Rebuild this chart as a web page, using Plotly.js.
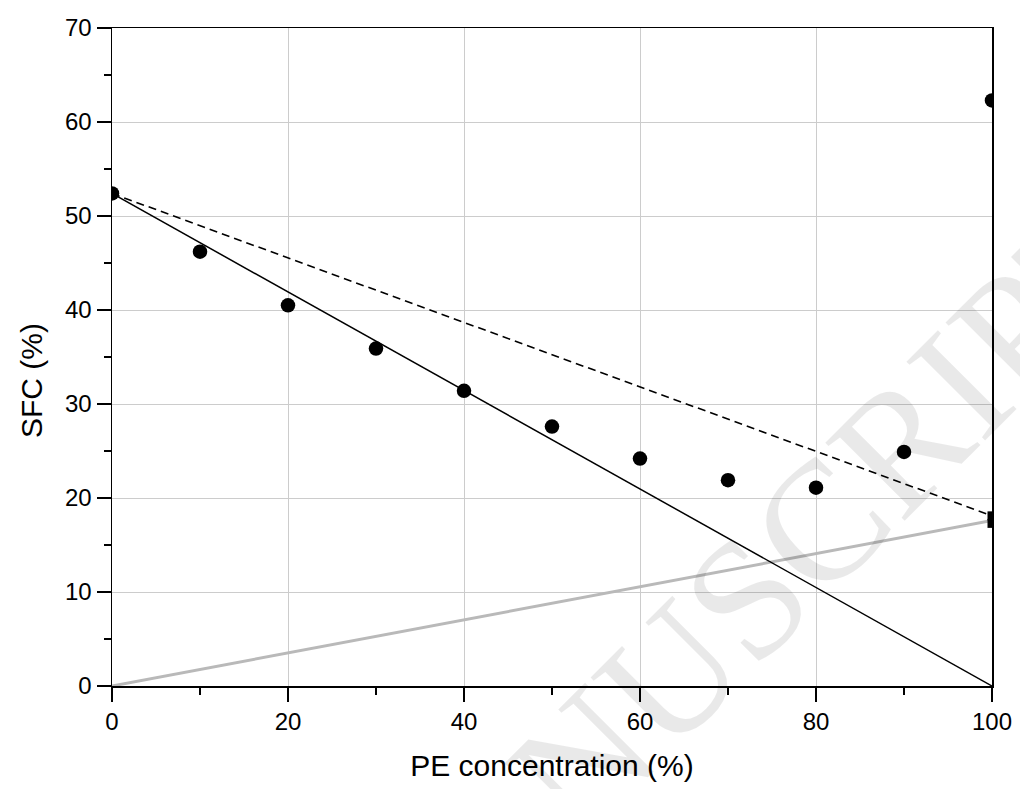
<!DOCTYPE html>
<html>
<head>
<meta charset="utf-8">
<script src="https://cdn.plot.ly/plotly-3.0.1.min.js"></script>
<style>html,body{margin:0;padding:0;background:#fff;}#chart{width:1020px;height:789px;}</style>
</head>
<body>
<div id="chart"></div>
<script>
// Measured SFC data (circles)
const peConc = [0, 10, 20, 30, 40, 50, 60, 70, 80, 90, 100];
const sfcMeasured = [52.4, 46.2, 40.5, 35.9, 31.4, 27.6, 24.2, 21.9, 21.1, 24.9, 62.3];
// Squares at 100 %
const squareX = [100, 100];
const squareY = [18.1, 17.3];
// Reference lines (endpoints)
const solidLineX = [0, 100];
const solidLineY = [52.4, 0];
const dashedLineX = [0, 100];
const dashedLineY = [52.4, 18.1];
const greyLineX = [0, 100];
const greyLineY = [0, 17.6];
// Tick labels
const xTickVals = [0, 20, 40, 60, 80, 100];
const yTickVals = [0, 10, 20, 30, 40, 50, 60, 70];

const traces = [
  {x: greyLineX, y: greyLineY, mode: 'lines', line: {color: '#b9b9b9', width: 3}, showlegend: false, hoverinfo: 'skip'},
  {x: solidLineX, y: solidLineY, mode: 'lines', line: {color: '#000', width: 1.5}, showlegend: false},
  {x: dashedLineX, y: dashedLineY, mode: 'lines', line: {color: '#000', width: 1.6, dash: '8px,5px'}, showlegend: false},
  {x: peConc, y: sfcMeasured, mode: 'markers', marker: {symbol: 'circle', size: 14.5, color: '#000'}, showlegend: false},
  {x: squareX, y: squareY, mode: 'markers', marker: {symbol: 'square', size: 9, color: '#000'}, showlegend: false}
];

const tickFont = {family: 'Liberation Sans, Arial, sans-serif', size: 24, color: '#000'};
const titleFont = {family: 'Liberation Sans, Arial, sans-serif', size: 30, color: '#000'};

const layout = {
  width: 1020, height: 789,
  margin: {l: 112, r: 28, t: 28, b: 103},
  paper_bgcolor: '#fff', plot_bgcolor: '#fff',
  showlegend: false,
  font: tickFont,
  xaxis: {
    range: [0, 100], tickmode: 'array', tickvals: xTickVals, ticktext: xTickVals.map(String),
    ticks: 'outside', ticklen: 14, tickwidth: 1.5, tickcolor: '#000',
    showline: true, linecolor: '#000', linewidth: 1.5, mirror: true,
    showgrid: true, gridcolor: '#cccccc', gridwidth: 1, zeroline: false,
    tickfont: tickFont,
    minor: {dtick: 10, tick0: 0, ticks: 'outside', ticklen: 7, tickwidth: 1.5, tickcolor: '#000', showgrid: false},
    title: {text: 'PE concentration (%)', font: titleFont, standoff: 20}
  },
  yaxis: {
    range: [0, 70], tickmode: 'array', tickvals: yTickVals, ticktext: yTickVals.map(String),
    ticks: 'outside', ticklen: 14, tickwidth: 1.5, tickcolor: '#000',
    showline: true, linecolor: '#000', linewidth: 1.5, mirror: true,
    showgrid: true, gridcolor: '#cccccc', gridwidth: 1, zeroline: false,
    tickfont: tickFont,
    minor: {dtick: 5, tick0: 0, ticks: 'outside', ticklen: 7, tickwidth: 1.5, tickcolor: '#000', showgrid: false}
  },
  annotations: [
    {text: 'SFC (%)', xref: 'paper', yref: 'paper', x: -0.092, y: 0.4635, xanchor: 'center', yanchor: 'middle',
     textangle: -90, showarrow: false, font: titleFont},
    {text: 'ACCEPTED MANUSCRIPT', xref: 'paper', yref: 'paper', x: 0.336, y: -0.381, xanchor: 'center', yanchor: 'middle',
     textangle: -45, showarrow: false, font: {family: 'Liberation Serif, Times New Roman, serif', size: 170, color: 'rgba(0,0,0,0.085)'}}
  ]
};

Plotly.newPlot('chart', traces, layout, {displayModeBar: false, staticPlot: true});
</script>
</body>
</html>
